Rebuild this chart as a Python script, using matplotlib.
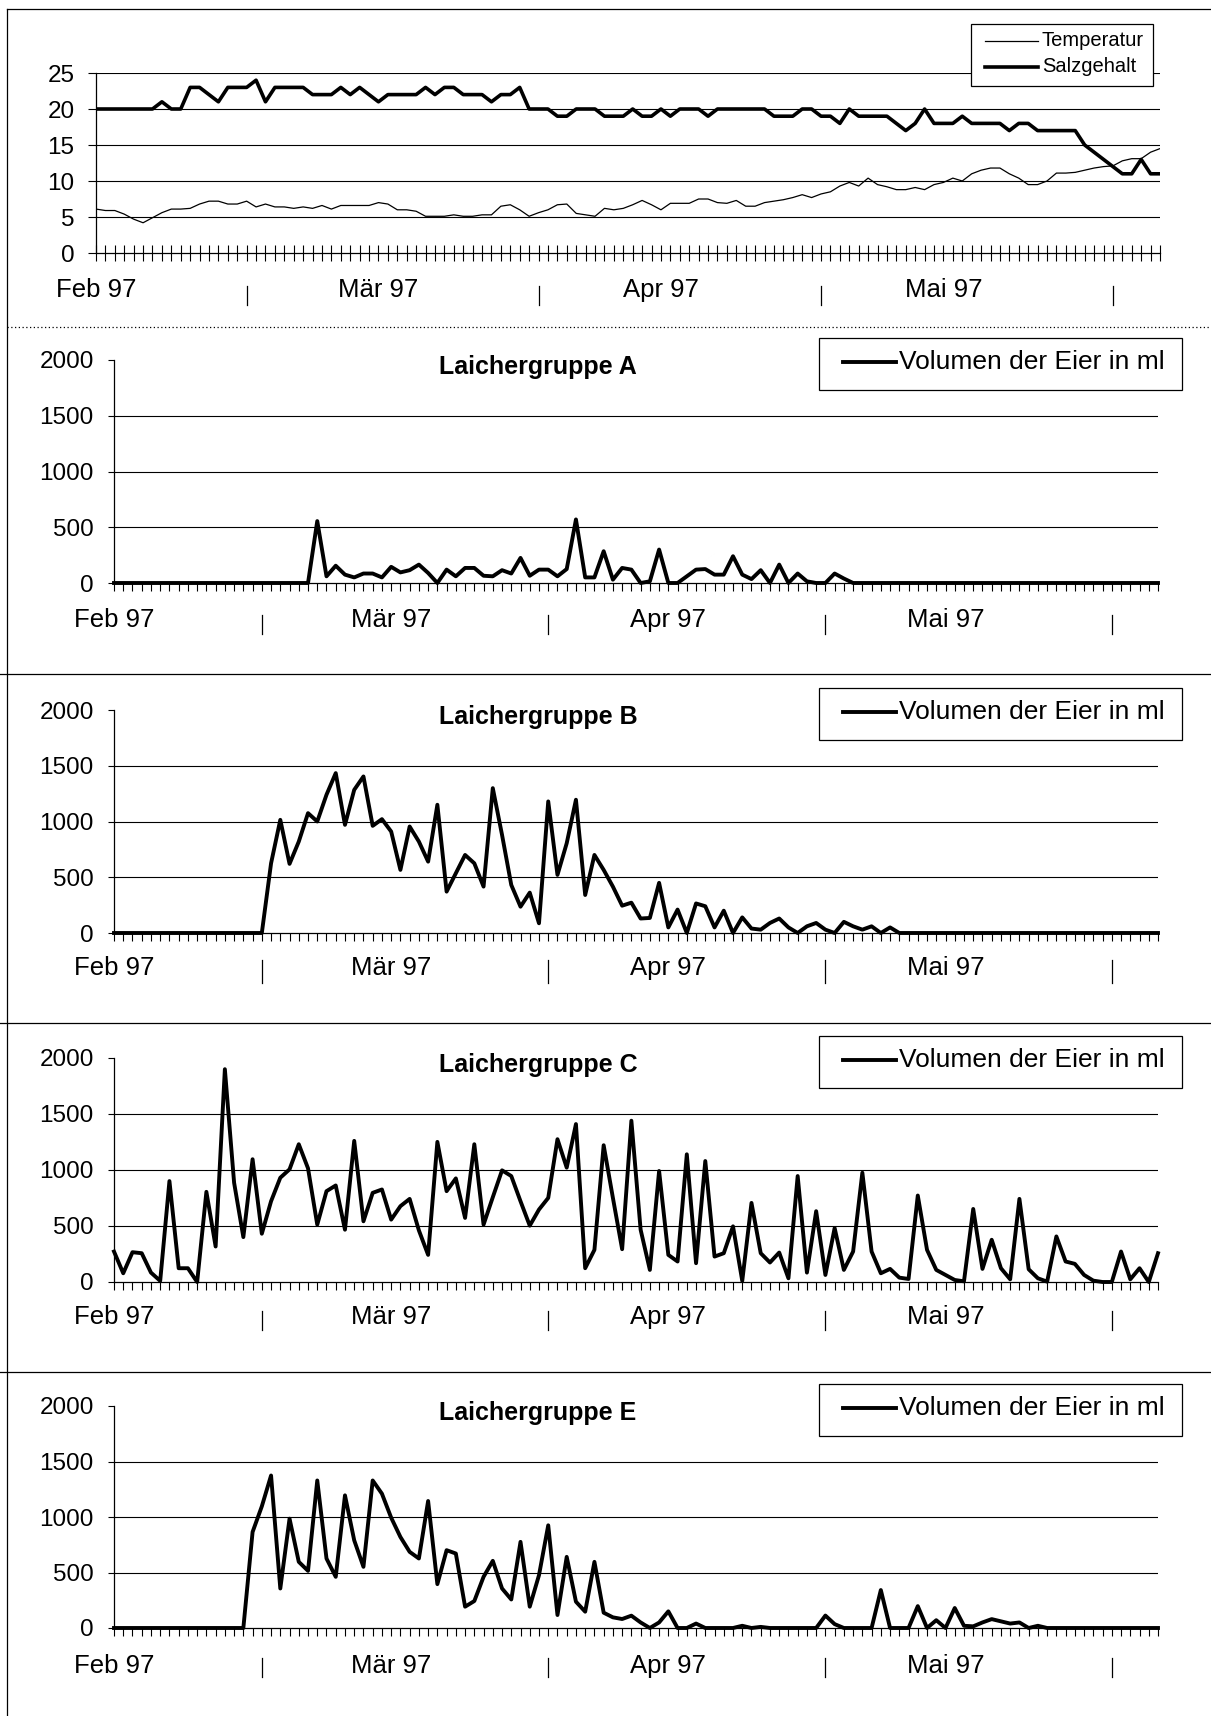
import numpy as np
import matplotlib
matplotlib.use('Agg')
import matplotlib.pyplot as plt
from matplotlib import transforms
from matplotlib.patches import Rectangle
from matplotlib.lines import Line2D

W, H = 1211, 1716
plt.rcParams['font.family'] = ['Liberation Sans', 'DejaVu Sans']

# ---- data (daily values, 114 days from Feb 97) ----
month_labels = ['Feb 97', 'Mär 97', 'Apr 97', 'Mai 97']
month_pos = [0, 30, 60, 90]
month_sep = [16, 47, 77, 108]

salzgehalt = [20, 20, 20, 20, 20, 20, 20, 21, 20, 20,
              23, 23, 22, 21, 23, 23, 23, 24, 21, 23,
              23, 23, 23, 22, 22, 22, 23, 22, 23, 22,
              21, 22, 22, 22, 22, 23, 22, 23, 23, 22,
              22, 22, 21, 22, 22, 23, 20, 20, 20, 19,
              19, 20, 20, 20, 19, 19, 19, 20, 19, 19,
              20, 19, 20, 20, 20, 19, 20, 20, 20, 20,
              20, 20, 19, 19, 19, 20, 20, 19, 19, 18,
              20, 19, 19, 19, 19, 18, 17, 18, 20, 18,
              18, 18, 19, 18, 18, 18, 18, 17, 18, 18,
              17, 17, 17, 17, 17, 15, 14, 13, 12, 11,
              11, 13, 11, 11]

temperatur = [6.1, 5.9, 5.9, 5.4, 4.7, 4.2, 4.9, 5.6, 6.1, 6.1,
              6.2, 6.8, 7.2, 7.2, 6.8, 6.8, 7.2, 6.4, 6.8, 6.4,
              6.4, 6.2, 6.4, 6.2, 6.6, 6.1, 6.6, 6.6, 6.6, 6.6,
              7.0, 6.8, 6.0, 6.0, 5.8, 5.1, 5.1, 5.1, 5.3, 5.1,
              5.1, 5.3, 5.3, 6.5, 6.7, 6.0, 5.1, 5.6, 6.0, 6.7,
              6.8, 5.5, 5.3, 5.1, 6.2, 6.0, 6.2, 6.7, 7.3, 6.7,
              6.0, 6.9, 6.9, 6.9, 7.5, 7.5, 7.0, 6.9, 7.3, 6.5,
              6.5, 7.0, 7.2, 7.4, 7.7, 8.1, 7.7, 8.2, 8.5, 9.3,
              9.8, 9.3, 10.4, 9.5, 9.2, 8.8, 8.8, 9.1, 8.8, 9.5,
              9.8, 10.4, 10.0, 11.0, 11.5, 11.8, 11.8, 11.0, 10.4, 9.5,
              9.5, 10.0, 11.1, 11.1, 11.2, 11.5, 11.8, 12.0, 12.1, 12.8,
              13.1, 13.1, 14.0, 14.5]

gruppe_a = [0] * 22 + [555, 60, 155, 75, 50, 85, 85, 50,
                       145, 95, 115, 165, 90, 0, 120, 60, 135, 135,
                       65, 60, 115, 85, 225, 65, 120, 120, 60, 125,
                       570, 50, 50, 285, 30, 135, 120, 0, 15, 300,
                       0, 0, 60, 120, 125, 75, 75, 240, 75, 35,
                       115, 0, 165, 0, 85, 15, 0, 0, 85, 40] + [0] * 34

gruppe_b = [0] * 17 + [625, 1015, 620,
                       820, 1075, 1000, 1240, 1434, 970, 1284, 1404, 961, 1021,
                       910, 566, 955, 820, 640, 1150, 371, 536, 700, 625,
                       416, 1299, 880, 431, 236, 362, 87, 1180, 521, 805,
                       1195, 341, 700, 566, 416, 245, 272, 130, 135, 450,
                       50, 210, 0, 265, 240, 50, 200, 0, 140, 40,
                       30, 90, 130, 50, 0, 60, 90, 30, 0, 100,
                       60, 30, 60, 0, 50] + [0] * 29

gruppe_c = [272, 78, 266, 257, 84, 10, 901, 123, 123, 0,
            805, 317, 1900, 886, 401, 1096, 431, 721, 931, 1006,
            1230, 1015, 512, 811, 862, 467, 1260, 542, 796, 826,
            557, 677, 742, 461, 242, 1251, 811, 925, 572, 1230,
            512, 757, 997, 946, 721, 503, 647, 751, 1275, 1021,
            1410, 123, 287, 1221, 751, 293, 1440, 467, 108, 991,
            242, 183, 1140, 168, 1080, 227, 257, 497, 10, 706,
            257, 174, 263, 33, 946, 84, 632, 63, 482, 108,
            272, 976, 272, 78, 117, 39, 27, 772, 287, 108,
            63, 18, 6, 652, 117, 377, 123, 24, 742, 114,
            33, 3, 407, 183, 162, 63, 12, 0, 0, 272,
            24, 123, 0, 257]

gruppe_e = [0] * 15 + [865, 1096, 1374, 356, 985,
                       596, 515, 1329, 626, 461, 1195, 790, 551, 1329, 1210,
                       994, 820, 686, 626, 1144, 395, 701, 671, 192, 243,
                       461, 605, 356, 257, 776, 192, 476, 925, 117, 641,
                       237, 147, 596, 138, 96, 81, 111, 50, 0, 50,
                       150, 0, 0, 40, 0, 0, 0, 0, 20, 0,
                       10, 0, 0, 0, 0, 0, 0, 112, 35, 0,
                       0, 0, 0, 342, 0, 0, 0, 197, 0, 70,
                       0, 180, 20, 15, 50, 80, 60, 40, 50, 0,
                       20] + [0] * 13

days = np.arange(len(salzgehalt))

fig = plt.figure(figsize=(W / 100, H / 100), dpi=100)


def fx(x):
    return x / W


def fy(y):
    return 1 - y / H


def make_axes(x0, x1, ytop, ybot, ymax, step, grid_top, ylen, ytickpad, xtick_dir, xtick_len):
    ax = fig.add_axes([fx(x0), fy(ybot), (x1 - x0) / W, (ybot - ytop) / H])
    ax.set_xlim(0, days[-1])
    ax.set_ylim(0, ymax)
    for s in ['top', 'right']:
        ax.spines[s].set_visible(False)
    ax.spines['left'].set_linewidth(0.9)
    ax.spines['bottom'].set_linewidth(0.9)
    top = ymax if grid_top else ymax - step
    for g in range(step, top + 1, step):
        ax.axhline(g, color='black', lw=0.8, zorder=1)
    ax.set_yticks(range(0, ymax + 1, step))
    ax.tick_params(axis='y', direction='out', length=ylen, width=0.8,
                   labelsize=17.5, pad=ytickpad)
    ax.set_xticks(days)
    ax.set_xticklabels([])
    ax.tick_params(axis='x', direction=xtick_dir, length=xtick_len, width=0.8)
    return ax


def month_axis(ax, ylab, ysep0, ysep1):
    tr = transforms.blended_transform_factory(ax.transData, fig.transFigure)
    for pos, lab in zip(month_pos, month_labels):
        ax.text(pos, fy(ylab), lab, transform=tr, ha='center', va='center',
                fontsize=18.5, clip_on=False)
    for s in month_sep:
        ax.add_line(Line2D([s, s], [fy(ysep0), fy(ysep1)], transform=tr,
                           color='black', lw=0.9, clip_on=False))


def legend_box(x0, y0, x1, y1, entries, lx0, lx1, tx, fs):
    fig.add_artist(Rectangle((fx(x0), fy(y1)), (x1 - x0) / W, (y1 - y0) / H,
                             transform=fig.transFigure, facecolor='white',
                             edgecolor='black', lw=0.9))
    for ly, lw, text in entries:
        fig.add_artist(Line2D([fx(lx0), fx(lx1)], [fy(ly), fy(ly)],
                              transform=fig.transFigure, color='black', lw=lw))
        fig.text(fx(tx), fy(ly), text, ha='left', va='center', fontsize=fs)


# ---- top panel: Temperatur / Salzgehalt ----
ax0 = make_axes(96, 1160, 73, 253, 25, 5, True, 6, 9.5, 'inout', 11)
ax0.plot(days, temperatur, color='black', lw=0.9, zorder=3)
ax0.plot(days, salzgehalt, color='black', lw=2.6, zorder=4)
month_axis(ax0, 290, 286, 305)
legend_box(971, 24, 1153, 86,
           [(41, 0.9, 'Temperatur'), (67, 2.6, 'Salzgehalt')],
           985, 1038, 1042, 14.5)

# ---- Laichergruppen ----
panels = [
    ('Laichergruppe A', gruppe_a, 360, 583, 620, 615, 634),
    ('Laichergruppe B', gruppe_b, 710, 933, 968, 960, 983),
    ('Laichergruppe C', gruppe_c, 1058, 1282, 1317, 1311, 1330),
    ('Laichergruppe E', gruppe_e, 1406, 1628, 1666, 1658, 1677),
]
for title, vals, ytop, ybot, ylab, ys0, ys1 in panels:
    ax = make_axes(114, 1158, ytop, ybot, 2000, 500, False, 4.5, 10, 'out', 6)
    ax.plot(days, vals, color='black', lw=2.8, zorder=3, clip_on=False)
    month_axis(ax, ylab, ys0, ys1)
    fig.text(fx(538), fy(ytop + 7), title, ha='center', va='center',
             fontsize=18, fontweight='bold')
    ly = ytop + 2
    legend_box(819, ytop - 22, 1182, ytop + 30,
               [(ly, 2.8, 'Volumen der Eier in ml')], 843, 896, 899, 19)

# ---- chart borders ----
border = dict(transform=fig.transFigure, color='black', lw=0.9)
fig.add_artist(Line2D([fx(7), 1], [fy(9), fy(9)], **border))
fig.add_artist(Line2D([fx(7), fx(7)], [fy(9), 0], **border))
fig.add_artist(Line2D([fx(7), 1], [fy(327), fy(327)], ls=(0, (1, 2)), **border))
for yb in [674, 1023, 1372]:
    fig.add_artist(Line2D([0, 1], [fy(yb), fy(yb)], **border))

fig.savefig('out.png', dpi=100, facecolor='white')
